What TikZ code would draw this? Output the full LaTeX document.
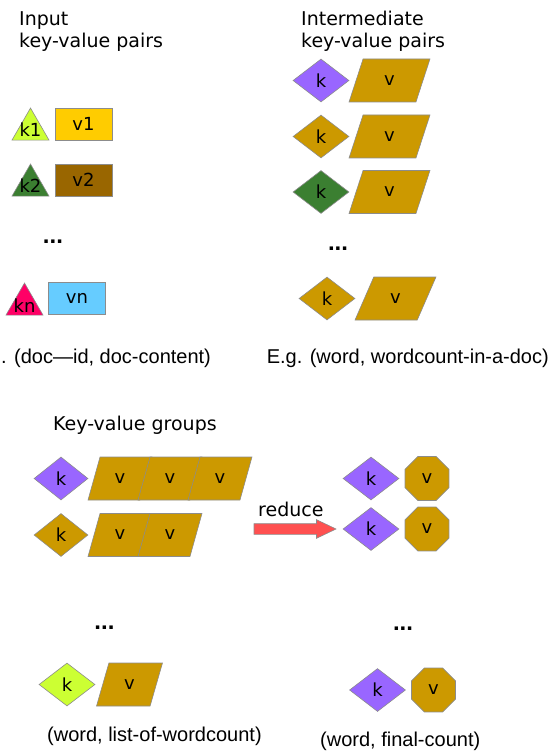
\documentclass[tikz,border=0pt]{standalone}
\usepackage{fontspec}
\setmainfont{DejaVu Sans}
\newfontfamily\notefont{Liberation Sans}
\usetikzlibrary{shapes.geometric,shapes.arrows,positioning}
\definecolor{kvgold}{HTML}{CC9900}
\definecolor{kvpurple}{HTML}{9966FF}
\definecolor{kvgreen}{HTML}{3B7F31}
\definecolor{kvlime}{HTML}{CCFF33}
\definecolor{kvyellow}{HTML}{FFCC00}
\definecolor{kvbrown}{HTML}{996600}
\definecolor{kvpink}{HTML}{FF0066}
\definecolor{kvcyan}{HTML}{66CCFF}
\definecolor{kvred}{HTML}{FF5050}

\begin{document}
\begin{tikzpicture}[x=1pt, y=-1pt,
  kvHead/.style ={inner sep=0pt, align=left, font=\fontsize{19}{22}\selectfont},
  kvTxt/.style  ={inner sep=0pt, font=\fontsize{18}{18}\selectfont},
  kvNote/.style ={inner sep=0pt, font=\notefont\fontsize{20}{24}\selectfont},
  kvDots/.style ={inner sep=0pt, font=\notefont\bfseries\fontsize{24}{24}\selectfont},
  kvTri/.style  ={regular polygon, regular polygon sides=3, draw=black!45, line width=0.6pt, inner sep=0pt, minimum size=42.7pt},
  kvBox/.style  ={rectangle, draw=black!45, line width=0.6pt, inner sep=0pt, minimum width=57pt, minimum height=32pt, font=\fontsize{18}{18}\selectfont},
  kvKey/.style  ={diamond, draw=black!45, line width=0.6pt, inner sep=0pt, minimum width=56pt, minimum height=43pt, font=\fontsize{18}{18}\selectfont},
  kvVal/.style  ={trapezium, trapezium left angle=74, trapezium right angle=106, trapezium stretches=true,
                  draw=black!45, fill=kvgold, line width=0.6pt, inner sep=0pt, minimum width=81pt, minimum height=43pt, font=\fontsize{18}{18}\selectfont},
  kvGrp/.style  ={kvVal, trapezium left angle=72, trapezium right angle=108, minimum width=64pt},
  kvOct/.style  ={regular polygon, regular polygon sides=8, draw=black!45, fill=kvgold, line width=0.6pt, inner sep=0pt, minimum size=47.6pt, font=\fontsize{18}{18}\selectfont},
  kvArrow/.style={single arrow, draw=black!45, fill=kvred, line width=0.6pt, inner xsep=0pt, inner ysep=5pt, minimum height=82pt,
                  single arrow head extend=4pt, single arrow tip angle=51},
]
\useasboundingbox (0,0) rectangle (551,751);

% input pairs
\node[kvHead, anchor=north west] (inhead) at (19,11) {Input\\key-value pairs};
\node[kvTri, fill=kvlime]  (k1) at (30.5,129.4) {};
\node[kvTxt, anchor=base]  (k1lbl) at (30.5,137) {k1};
\node[kvBox, fill=kvyellow] (v1) at (83.5,124) {v1};
\node[kvTri, fill=kvgreen] (k2) at (30.5,185.4) {};
\node[kvTxt, anchor=base]  (k2lbl) at (30.5,193) {k2};
\node[kvBox, fill=kvbrown] (v2) at (83.5,180) {v2};
\node[kvDots, anchor=base] (indots) at (53,243) {...};
\node[kvTri, fill=kvpink]  (kn) at (24.5,304.4) {};
\node[kvTxt, anchor=base]  (knlbl) at (24.5,312) {kn};
\node[kvBox, fill=kvcyan]  (vn) at (77,298.5) {vn};
\node[kvNote, anchor=base west] (innote) at (1,363) {. (doc—id, doc-content)};

% intermediate pairs
\node[kvHead, anchor=north west] (imhead) at (301,11) {Intermediate\\key-value pairs};
\node[kvKey, fill=kvpurple] (ik1) at (321,80.5) {k};
\node[kvVal] (iv1) at (389.5,80.5) {v};
\node[kvKey, fill=kvgold]   (ik2) at (321,136.5) {k};
\node[kvVal] (iv2) at (389.5,136.5) {v};
\node[kvKey, fill=kvgreen]  (ik3) at (321,192) {k};
\node[kvVal] (iv3) at (389.5,192) {v};
\node[kvDots, anchor=base] (imdots) at (338,250) {...};
\node[kvKey, fill=kvgold]   (ik4) at (327,298.5) {k};
\node[kvVal, trapezium left angle=65, trapezium right angle=115] (iv4) at (395.5,298.5) {v};
\node[kvNote, anchor=base east] (imnote) at (549,363) {E.g. (word, wordcount-in-a-doc)};

% key-value groups
\node[kvHead, anchor=base west] (grhead) at (53,430) {Key-value groups};
\node[kvKey, fill=kvpurple, minimum width=54pt] (gk1) at (61,478.5) {k};
\foreach \x [count=\i] in {120,170,220}
  \node[kvGrp] (gv1\i) at (\x,478.5) {v};
\node[kvKey, fill=kvgold, minimum width=54pt] (gk2) at (61,535) {k};
\foreach \x [count=\i] in {120,170}
  \node[kvGrp] (gv2\i) at (\x,535) {v};
\node[kvDots, anchor=base] (grdots) at (104.5,629) {...};
\node[kvKey, fill=kvlime] (gk3) at (67,684.5) {k};
\node[kvGrp, minimum width=66pt] (gv3) at (129.5,684.5) {v};
\node[kvNote, anchor=base west] (grnote) at (47,741) {(word, list-of-wordcount)};

% reduce output
\node[kvKey, fill=kvpurple] (rk1) at (371,478.5) {k};
\node[kvOct] (rv1) at (427,478.5) {v};
\node[kvKey, fill=kvpurple] (rk2) at (371,529) {k};
\node[kvOct] (rv2) at (427,529) {v};
\node[kvDots, anchor=base] (rdots) at (403,630) {...};
\node[kvKey, fill=kvpurple] (rk3) at (377.5,690) {k};
\node[kvOct] (rv3) at (433.5,690) {v};
\node[kvNote, anchor=base west] (rnote) at (320,746) {(word, final-count)};

\node[kvArrow, anchor=tip] (rarrow) at ([xshift=-6pt]rk2.west) {};
\node[kvHead, anchor=base west] (rlbl) at (258,516) {reduce};
\end{tikzpicture}
\end{document}
